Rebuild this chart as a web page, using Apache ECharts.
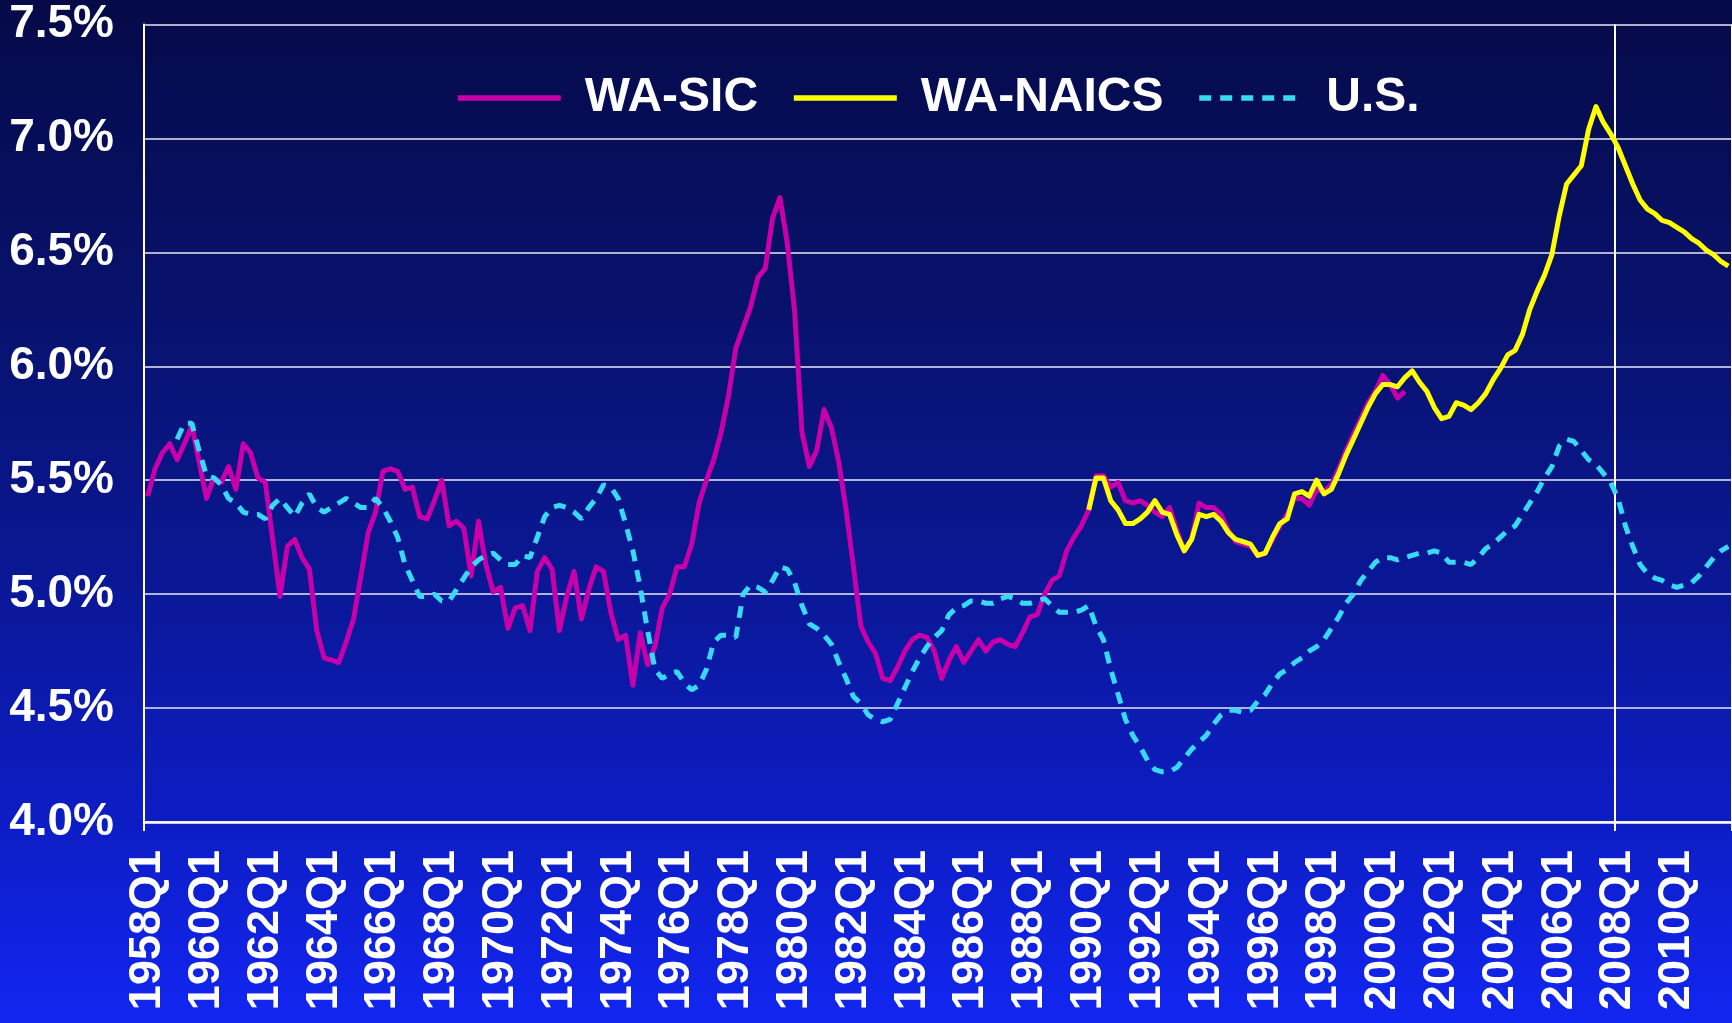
<!DOCTYPE html>
<html>
<head>
<meta charset="utf-8">
<script src="https://cdn.jsdelivr.net/npm/echarts@6/dist/echarts.min.js"></script>
<style>
  html, body { margin: 0; padding: 0; background: #0a1690; }
  #draw_area { width: 1732px; height: 1023px; }
</style>
</head>
<body>
<div id="draw_area"></div>
<script>
"use strict";

// quarter labels 1958Q1 .. 2011Q4
var quarters = [];
for (var yr = 1958; yr <= 2011; yr++) {
    for (var q = 1; q <= 4; q++) quarters.push(yr + 'Q' + q);
}

// WA-SIC, from 1958Q1 to 2000Q4
var wa_sic = [
    5.43, 5.55, 5.62, 5.66, 5.59, 5.66, 5.74, 5.58, 5.42, 5.51, 5.49, 5.56,
    5.46, 5.66, 5.62, 5.51, 5.49, 5.24, 4.99, 5.21, 5.24, 5.16, 5.11, 4.84,
    4.72, 4.71, 4.70, 4.79, 4.89, 5.08, 5.27, 5.36, 5.54, 5.55, 5.54, 5.46,
    5.47, 5.34, 5.33, 5.41, 5.50, 5.30, 5.32, 5.29, 5.08, 5.32, 5.13, 5.01,
    5.03, 4.85, 4.94, 4.95, 4.84, 5.10, 5.16, 5.11, 4.84, 4.99, 5.10, 4.89,
    5.02, 5.12, 5.10, 4.92, 4.80, 4.82, 4.60, 4.83, 4.69, 4.77, 4.94, 5.00,
    5.12, 5.12, 5.22, 5.40, 5.50, 5.59, 5.71, 5.87, 6.08, 6.17, 6.26, 6.39,
    6.43, 6.65, 6.74, 6.54, 6.24, 5.71, 5.56, 5.63, 5.81, 5.73, 5.58, 5.37,
    5.12, 4.86, 4.79, 4.74, 4.63, 4.62, 4.68, 4.75, 4.80, 4.82, 4.81, 4.75,
    4.63, 4.71, 4.77, 4.70, 4.75, 4.80, 4.75, 4.79, 4.80, 4.78, 4.77, 4.83,
    4.90, 4.91, 5.00, 5.06, 5.08, 5.19, 5.25, 5.30, 5.37, 5.52, 5.52, 5.47,
    5.49, 5.41, 5.40, 5.41, 5.39, 5.36, 5.34, 5.38, 5.28, 5.19, 5.24, 5.40,
    5.38, 5.38, 5.35, 5.28, 5.23, 5.22, 5.21, 5.17, 5.18, 5.24, 5.30, 5.35,
    5.42, 5.42, 5.39, 5.46, 5.45, 5.48, 5.55, 5.63, 5.70, 5.77, 5.84, 5.89,
    5.96, 5.92, 5.86, 5.89
];

// WA-NAICS, from 1990Q1 to 2011Q4
var wa_naics = [
    5.37, 5.51, 5.51, 5.41, 5.37, 5.31, 5.31, 5.33, 5.36, 5.41, 5.36, 5.35,
    5.26, 5.19, 5.24, 5.35, 5.34, 5.35, 5.32, 5.27, 5.24, 5.23, 5.22, 5.17,
    5.18, 5.25, 5.31, 5.33, 5.44, 5.45, 5.43, 5.50, 5.44, 5.46, 5.53, 5.61,
    5.68, 5.75, 5.82, 5.88, 5.92, 5.92, 5.91, 5.95, 5.98, 5.93, 5.89, 5.82,
    5.77, 5.78, 5.84, 5.83, 5.81, 5.84, 5.88, 5.94, 5.99, 6.05, 6.07, 6.14,
    6.25, 6.33, 6.40, 6.49, 6.66, 6.80, 6.84, 6.88, 7.04, 7.14, 7.07, 7.02,
    6.96, 6.88, 6.80, 6.73, 6.69, 6.67, 6.64, 6.63, 6.61, 6.59, 6.56, 6.54,
    6.51, 6.49, 6.46, 6.44
];

// U.S., from 1959Q1 to 2011Q4
var us = [
    5.68, 5.75, 5.75, 5.63, 5.52, 5.51, 5.48, 5.42, 5.40, 5.36, 5.35, 5.35,
    5.33, 5.39, 5.42, 5.38, 5.34, 5.40, 5.44, 5.38, 5.36, 5.38, 5.40, 5.42,
    5.40, 5.38, 5.38, 5.42, 5.38, 5.32, 5.25, 5.13, 5.06, 4.99, 4.99, 5.00,
    4.97, 4.97, 5.02, 5.07, 5.12, 5.15, 5.17, 5.18, 5.15, 5.13, 5.13, 5.17,
    5.16, 5.25, 5.34, 5.38, 5.39, 5.38, 5.36, 5.33, 5.38, 5.42, 5.48, 5.47,
    5.42, 5.31, 5.19, 5.03, 4.84, 4.67, 4.63, 4.65, 4.66, 4.61, 4.58, 4.60,
    4.67, 4.79, 4.82, 4.82, 4.81, 5.00, 5.04, 5.03, 5.01, 5.06, 5.12, 5.11,
    5.05, 4.95, 4.87, 4.85, 4.82, 4.78, 4.70, 4.63, 4.55, 4.52, 4.47, 4.45,
    4.44, 4.45, 4.52, 4.59, 4.66, 4.72, 4.77, 4.81, 4.84, 4.91, 4.94, 4.95,
    4.97, 4.97, 4.96, 4.96, 4.98, 4.99, 4.98, 4.96, 4.96, 4.97, 4.98, 4.95,
    4.92, 4.92, 4.92, 4.93, 4.95, 4.86, 4.80, 4.67, 4.56, 4.45, 4.38, 4.33,
    4.27, 4.23, 4.22, 4.22, 4.24, 4.28, 4.32, 4.35, 4.38, 4.43, 4.47, 4.49,
    4.49, 4.48, 4.49, 4.53, 4.56, 4.61, 4.65, 4.67, 4.70, 4.72, 4.75, 4.77,
    4.80, 4.85, 4.90, 4.96, 5.00, 5.06, 5.10, 5.14, 5.16, 5.16, 5.15, 5.16,
    5.17, 5.18, 5.18, 5.19, 5.18, 5.14, 5.14, 5.14, 5.13, 5.16, 5.20, 5.22,
    5.25, 5.28, 5.30, 5.35, 5.40, 5.45, 5.51, 5.56, 5.65, 5.68, 5.67, 5.63,
    5.59, 5.57, 5.53, 5.49, 5.42, 5.30, 5.21, 5.13, 5.09, 5.07, 5.06, 5.04,
    5.03, 5.04, 5.05, 5.08, 5.12, 5.16, 5.19, 5.21
];

var y_ticks = [4.0, 4.5, 5.0, 5.5, 6.0, 6.5, 7.0, 7.5];

//把一段数据放到对应的季度位置上，其余为空
function place(values, start_label) {
    var out = quarters.map(function () { return null; });
    var s = quarters.indexOf(start_label);
    for (var k = 0; k < values.length; k++) out[s + k] = values[k];
    return out;
}

var font = '"Liberation Sans", Arial, sans-serif';
var divider_index = quarters.indexOf('2008Q1');

const option = {
    animation: false,
    backgroundColor: {
        type: 'linear', x: 0, y: 0, x2: 0, y2: 1,
        colorStops: [
            { offset: 0, color: '#050a48' },
            { offset: 0.3, color: '#08126c' },
            { offset: 0.55, color: '#0a1792' },
            { offset: 0.8, color: '#0d1dc4' },
            { offset: 1, color: '#1226f2' }
        ]
    },
    grid: { left: 144, right: 0, top: 24.5, bottom: 201 },
    legend: {
        left: 450,
        top: 69,
        itemWidth: 103,
        itemHeight: 14,
        itemGap: 33,
        itemStyle: { opacity: 0 },
        lineStyle: { width: 5.5 },
        formatter: function (name) { return '{g|}' + name; },
        textStyle: {
            color: '#ffffff',
            fontFamily: font,
            fontWeight: 'bold',
            fontSize: 48,
            rich: { g: { width: 19 } }
        },
        data: ['WA-SIC', 'WA-NAICS', 'U.S.']
    },
    xAxis: {
        type: 'category',
        data: quarters,
        boundaryGap: true,
        axisLine: { show: true, lineStyle: { color: '#ffffff', width: 2.5 } },
        axisTick: {
            show: true,
            length: 9,
            interval: function (i) { return i === 0 || i === divider_index; },
            lineStyle: { color: '#ffffff', width: 2 }
        },
        splitLine: {
            show: true,
            interval: function (i) { return i === 0 || i === divider_index; },
            lineStyle: { color: '#ffffff', width: 2 }
        },
        axisLabel: {
            interval: 7,
            rotate: 90,
            margin: 28,
            color: '#ffffff',
            fontFamily: font,
            fontWeight: 'bold',
            fontSize: 45
        }
    },
    yAxis: {
        type: 'value',
        min: y_ticks[0],
        max: y_ticks[y_ticks.length - 1],
        interval: 0.5,
        axisLine: { show: true, lineStyle: { color: '#ffffff', width: 2 } },
        axisTick: { show: false },
        splitLine: { show: true, lineStyle: { color: '#e8e8f0', width: 1.5 } },
        axisLabel: {
            margin: 30,
            color: '#ffffff',
            fontFamily: font,
            fontWeight: 'bold',
            fontSize: 46,
            formatter: function (v) { return v.toFixed(1) + '%'; }
        }
    },
    series: [
        {
            name: 'WA-SIC',
            type: 'line',
            data: place(wa_sic, '1958Q1'),
            symbol: 'none',
            connectNulls: false,
            lineStyle: { color: '#c800aa', width: 5, join: 'round' },
            itemStyle: { color: '#c800aa' }
        },
        {
            name: 'WA-NAICS',
            type: 'line',
            data: place(wa_naics, '1990Q1'),
            symbol: 'none',
            lineStyle: { color: '#ffff00', width: 5, join: 'round' },
            itemStyle: { color: '#ffff00' }
        },
        {
            name: 'U.S.',
            type: 'line',
            data: place(us, '1959Q1'),
            symbol: 'none',
            lineStyle: { color: '#38d9f5', width: 5, type: [12, 9], cap: 'butt' },
            itemStyle: { color: '#38d9f5' }
        }
    ]
};

var chart_object = echarts.init(document.getElementById('draw_area'));
chart_object.setOption(option);
</script>
</body>
</html>
